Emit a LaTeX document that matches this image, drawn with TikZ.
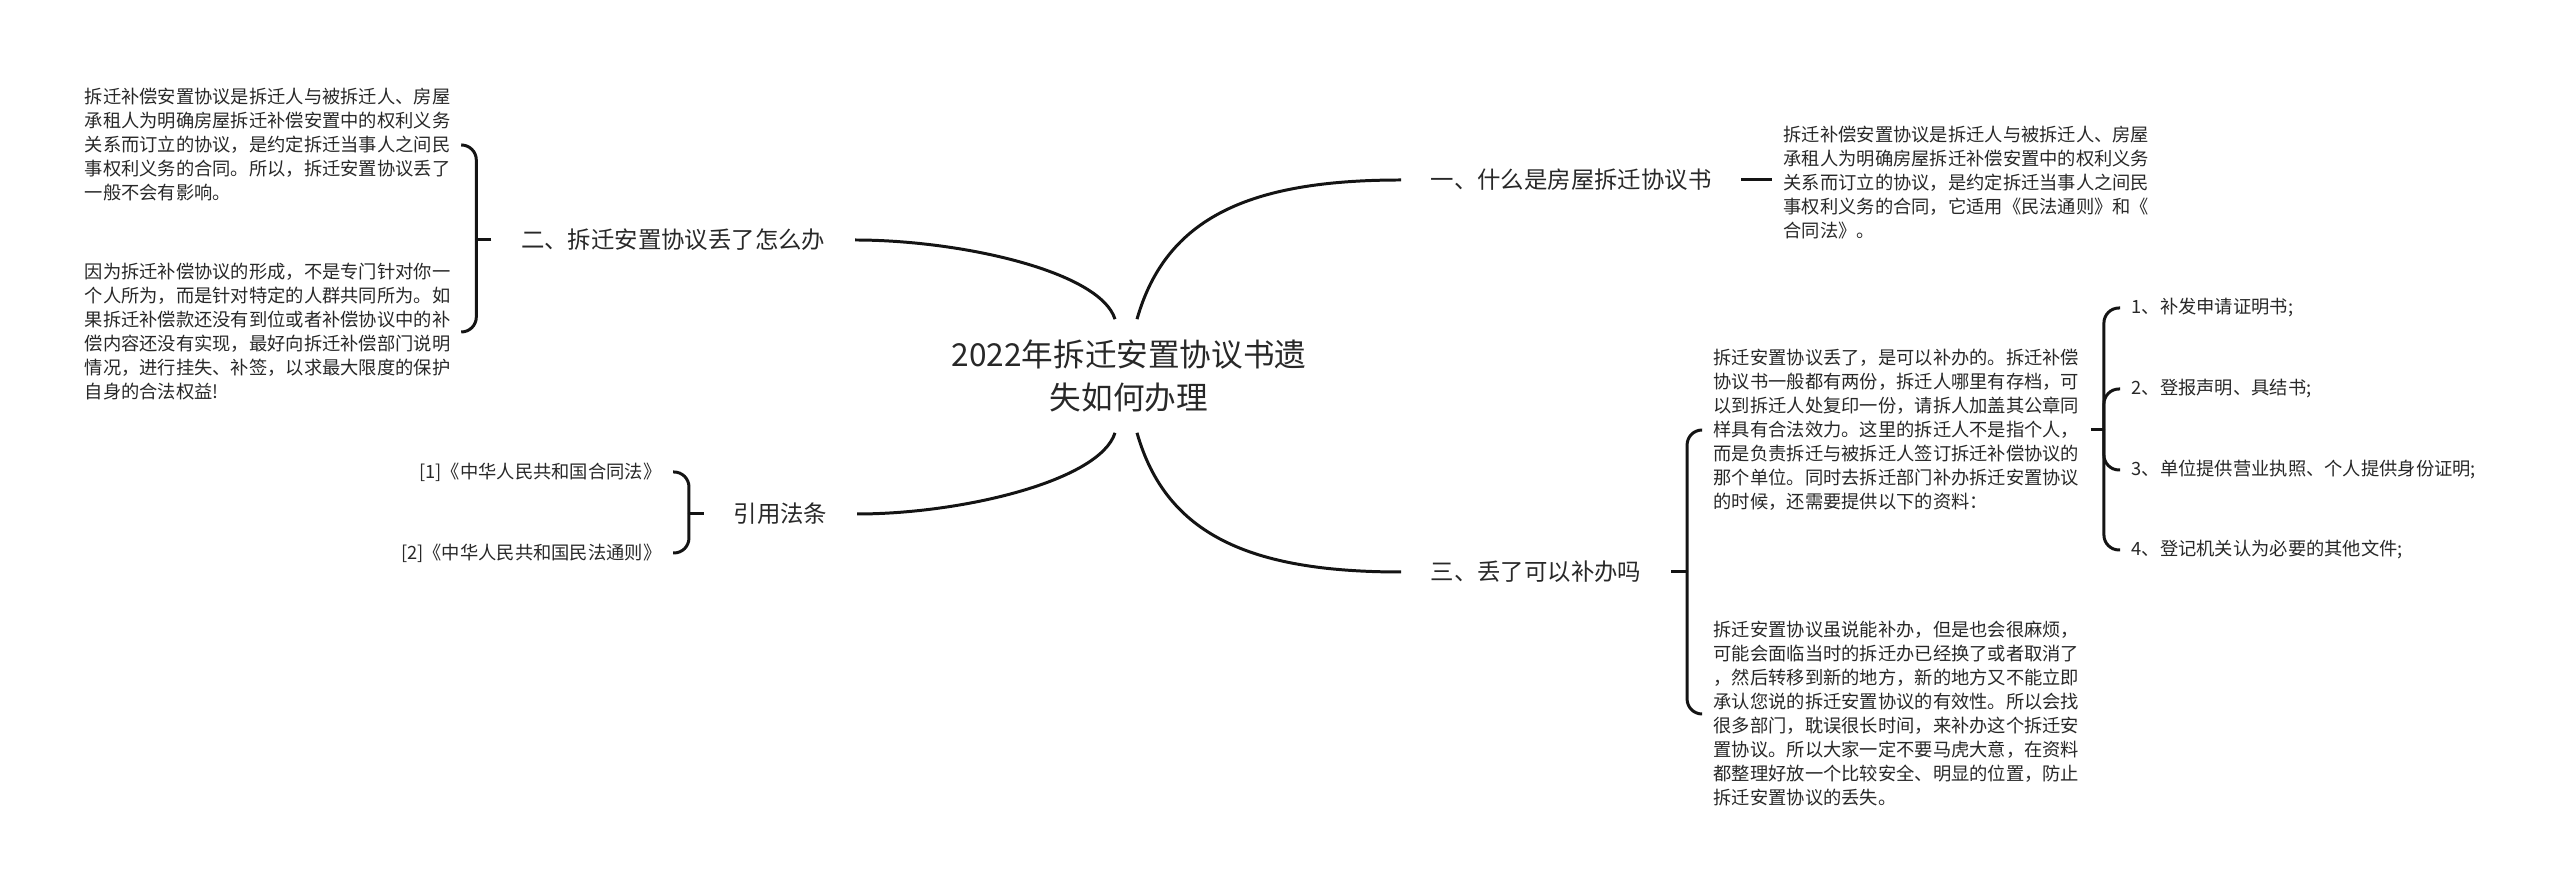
\documentclass[tikz,border=0pt]{standalone}
\usepackage{fontspec}
\setmainfont{Noto Sans CJK SC}
\usepackage{tikz}
\definecolor{InkGray}{RGB}{40, 40, 40}
\definecolor{LineBlack}{RGB}{20, 20, 20}

\begin{document}
\begin{tikzpicture}[
    topic/.style={align=center, text=InkGray, inner sep=0.2cm, font=\fontsize{9pt}{12.2pt}\selectfont},
    branch/.style={text=InkGray, inner xsep=0.29cm, inner ysep=0.1cm, font=\fontsize{6.66pt}{8pt}\selectfont},
    leaf/.style={align=left, text=InkGray, inner xsep=0.11cm, inner ysep=0.05cm, font=\fontsize{5.2pt}{6.83pt}\selectfont},
    link/.style={draw=LineBlack, line width=0.85pt},
    brace/.style={link, rounded corners=0.15cm}
  ]
    \useasboundingbox (0, 0) rectangle (25.6, 8.95);

    % Central topic
    \node[topic] (root) at (11.29, 5.19) {2022年拆迁安置协议书遗\\失如何办理};

    % Main branches
    \node[branch, anchor=west] (b1) at (14.01, 7.15) {一、什么是房屋拆迁协议书};
    \node[branch, anchor=east] (b2) at (8.55, 6.55) {二、拆迁安置协议丢了怎么办};
    \node[branch, anchor=west] (b3) at (14.01, 3.23) {三、丢了可以补办吗};
    \node[branch, anchor=east] (b4) at (8.57, 3.81) {引用法条};

    % Curves from the topic
    \draw[link] ([xshift=0.08cm]root.north) .. controls +(0.29, 1.02) and +(-1.51, 0) .. (b1.west);
    \draw[link] ([xshift=-0.14cm]root.north) .. controls +(-0.15, 0.48) and +(1.05, 0) .. (b2.east);
    \draw[link] ([xshift=0.08cm]root.south) .. controls +(0.29, -1.02) and +(-1.51, 0) .. (b3.west);
    \draw[link] ([xshift=-0.14cm]root.south) .. controls +(-0.15, -0.48) and +(1.05, 0) .. (b4.east);

    % Branch 1
    \node[leaf, anchor=west] (t1) at (17.72, 7.12) {拆迁补偿安置协议是拆迁人与被拆迁人、房屋\\承租人为明确房屋拆迁补偿安置中的权利义务\\关系而订立的协议，是约定拆迁当事人之间民\\事权利义务的合同，它适用《民法通则》和《\\合同法》。};
    \draw[link] (b1.east) -- (b1.east -| t1.west);

    % Branch 2
    \coordinate (h2) at ([xshift=-0.15cm]b2.west);
    \node[leaf, anchor=east] (t2a) at (4.62, 7.50) {拆迁补偿安置协议是拆迁人与被拆迁人、房屋\\承租人为明确房屋拆迁补偿安置中的权利义务\\关系而订立的协议，是约定拆迁当事人之间民\\事权利义务的合同。所以，拆迁安置协议丢了\\一般不会有影响。};
    \node[leaf, anchor=east] (t2b) at (4.62, 5.63) {因为拆迁补偿协议的形成，不是专门针对你一\\个人所为，而是针对特定的人群共同所为。如\\果拆迁补偿款还没有到位或者补偿协议中的补\\偿内容还没有实现，最好向拆迁补偿部门说明\\情况，进行挂失、补签，以求最大限度的保护\\自身的合法权益!};
    \draw[link] (b2.west) -- (h2);
    \foreach \n in {t2a, t2b} {
      \draw[brace] (h2) |- (\n.east);
    }

    % Branch 3
    \coordinate (h3) at ([xshift=0.16cm]b3.east);
    \node[leaf, anchor=west] (t3a) at (17.02, 4.65) {拆迁安置协议丢了，是可以补办的。拆迁补偿\\协议书一般都有两份，拆迁人哪里有存档，可\\以到拆迁人处复印一份，请拆人加盖其公章同\\样具有合法效力。这里的拆迁人不是指个人，\\而是负责拆迁与被拆迁人签订拆迁补偿协议的\\那个单位。同时去拆迁部门补办拆迁安置协议\\的时候，还需要提供以下的资料：};
    \node[leaf, anchor=west] (t3b) at (17.02, 1.81) {拆迁安置协议虽说能补办，但是也会很麻烦，\\可能会面临当时的拆迁办已经换了或者取消了\\，然后转移到新的地方，新的地方又不能立即\\承认您说的拆迁安置协议的有效性。所以会找\\很多部门，耽误很长时间，来补办这个拆迁安\\置协议。所以大家一定不要马虎大意，在资料\\都整理好放一个比较安全、明显的位置，防止\\拆迁安置协议的丢失。};
    \draw[link] (b3.east) -- (h3);
    \foreach \n in {t3a, t3b} {
      \draw[brace] (h3) |- (\n.west);
    }

    % Required documents
    \coordinate (h5) at ([xshift=0.13cm]t3a.east);
    \draw[link] (t3a.east) -- (h5);
    \foreach \i/\y/\txt in {1/5.87/{1、补发申请证明书;}, 2/5.06/{2、登报声明、具结书;}, 3/4.25/{3、单位提供营业执照、个人提供身份证明;}, 4/3.45/{4、登记机关认为必要的其他文件;}} {
      \node[leaf, anchor=west] (p\i) at (21.20, \y) {\txt};
      \draw[brace] (h5) |- (p\i.west);
    }

    % Cited laws
    \coordinate (h4) at ([xshift=-0.15cm]b4.west);
    \node[leaf, anchor=east] (l1) at (6.73, 4.23) {[1]《中华人民共和国合同法》};
    \node[leaf, anchor=east] (l2) at (6.73, 3.42) {[2]《中华人民共和国民法通则》};
    \draw[link] (b4.west) -- (h4);
    \foreach \n in {l1, l2} {
      \draw[brace] (h4) |- (\n.east);
    }
  \end{tikzpicture}
\end{document}
